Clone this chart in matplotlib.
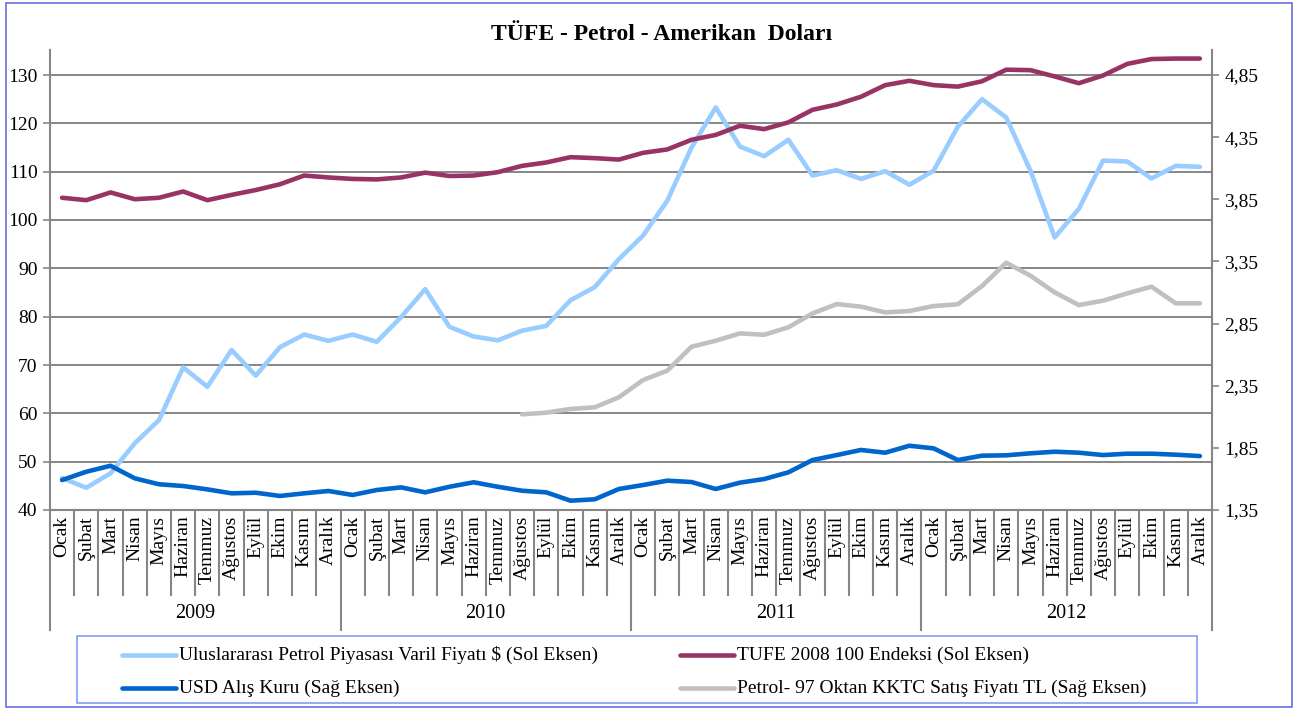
import numpy as np
import matplotlib
matplotlib.use("Agg")
import matplotlib.pyplot as plt
from matplotlib.lines import Line2D
from matplotlib.patches import Rectangle
from matplotlib.transforms import blended_transform_factory

plt.rcParams['font.family'] = ['Liberation Serif', 'DejaVu Serif']

months = ["Ocak", "Şubat", "Mart", "Nisan", "Mayıs", "Haziran", "Temmuz",
          "Ağustos", "Eylül", "Ekim", "Kasım", "Aralık"]
years = ["2009", "2010", "2011", "2012"]

oil = [46.6, 44.6, 47.6, 53.8, 58.6, 69.5, 65.5, 73.1, 67.8, 73.7, 76.3, 75.0,
       76.3, 74.8, 79.9, 85.7, 77.9, 75.9, 75.1, 77.1, 78.1, 83.4, 86.1, 91.9,
       96.8, 104.0, 115.0, 123.3, 115.2, 113.2, 116.6, 109.2, 110.3, 108.5, 110.1, 107.3,
       110.2, 119.3, 125.0, 121.2, 110.2, 96.4, 102.3, 112.3, 112.1, 108.6, 111.2, 111.0]
tufe = [104.6, 104.1, 105.7, 104.3, 104.6, 105.9, 104.1, 105.2, 106.2, 107.4, 109.2, 108.8,
        108.5, 108.4, 108.8, 109.8, 109.1, 109.2, 109.9, 111.2, 111.9, 113.0, 112.8, 112.5,
        113.9, 114.6, 116.6, 117.6, 119.5, 118.8, 120.2, 122.8, 123.9, 125.5, 127.9, 128.8,
        127.9, 127.6, 128.7, 131.1, 131.0, 129.7, 128.3, 129.9, 132.3, 133.3, 133.4, 133.4]
usd = [1.591, 1.658, 1.706, 1.605, 1.557, 1.543, 1.516, 1.484, 1.489, 1.463, 1.484, 1.503,
       1.471, 1.511, 1.532, 1.492, 1.537, 1.573, 1.537, 1.505, 1.492, 1.425, 1.436, 1.519,
       1.551, 1.586, 1.575, 1.519, 1.570, 1.599, 1.653, 1.752, 1.792, 1.833, 1.811, 1.867,
       1.846, 1.752, 1.787, 1.790, 1.806, 1.819, 1.811, 1.792, 1.803, 1.803, 1.795, 1.784]
petrol = [np.nan] * 19 + [2.120, 2.133, 2.163, 2.176, 2.257,
          2.396, 2.471, 2.664, 2.712, 2.771, 2.760, 2.820, 2.932, 3.007, 2.986, 2.940, 2.951,
          2.991, 3.005, 3.152, 3.340, 3.235, 3.101, 2.999, 3.034, 3.093, 3.147, 3.013, 3.013]

left_ticks = list(range(40, 131, 10))
right_ticks = [1.35, 1.85, 2.35, 2.85, 3.35, 3.85, 4.35, 4.85]

labels = ["Uluslararası Petrol Piyasası Varil Fiyatı $ (Sol Eksen)",
          "TUFE 2008 100 Endeksi (Sol Eksen)",
          "USD Alış Kuru (Sağ Eksen)",
          "Petrol- 97 Oktan KKTC Satış Fiyatı TL (Sağ Eksen)"]
colors = ["#99CCFF", "#993366", "#0066CC", "#C0C0C0"]

W, H = 1298, 709
fig = plt.figure(figsize=(W / 100, H / 100), dpi=100)
L, R, T, B = 50, 1212, 50, 510
ax = fig.add_axes([L / W, 1 - B / H, (R - L) / W, (B - T) / H])
ax2 = ax.twinx()

n = len(oil)
x = np.arange(n)
grid_c = "#868686"
lw = 3.3
kw = dict(lw=lw, solid_capstyle='round', solid_joinstyle='round', zorder=3)

ax.plot(x, oil, color=colors[0], **kw)
ax.plot(x, tufe, color=colors[1], **kw)
ax2.plot(x, usd, color=colors[2], **kw)
ax2.plot(x, petrol, color=colors[3], **kw)

ax.set_xlim(-0.5, n - 0.5)
ax.set_ylim(40, 40 + (B - T) / ((B - 75) / 90))
ax2.set_ylim(1.35, 1.35 + (B - T) / ((B - 75) / 3.5))

tick_fs = 14
ax.set_yticks(left_ticks)
ax.set_yticklabels([str(v) for v in left_ticks], fontsize=tick_fs)
ax2.set_yticks(right_ticks)
ax2.set_yticklabels([f"{v:.2f}".replace('.', ',') for v in right_ticks], fontsize=tick_fs)
for a in (ax, ax2):
    a.tick_params(axis='y', color=grid_c, length=5, width=1.2, pad=4)
    for s in a.spines.values():
        s.set_visible(False)
ax.yaxis.grid(True, color=grid_c, lw=1.4)
ax.set_axisbelow(True)
for a, side in ((ax, 'left'), (ax, 'bottom'), (ax2, 'right')):
    a.spines[side].set_visible(True)
    a.spines[side].set_color(grid_c)
    a.spines[side].set_linewidth(1.5)

# category labels
ax.set_xticks(x)
ax.set_xticklabels(months * len(years), rotation=90, fontsize=14, va='top', ha='center')
ax.tick_params(axis='x', length=0, pad=4)

trans = blended_transform_factory(ax.transData, ax.transAxes)
ph = B - T
y_month = -(595 - B) / ph
y_year = -(630 - B) / ph
for k in range(n + 1):
    bottom = y_year if k % 12 == 0 else y_month
    ax.add_line(Line2D([k - 0.5, k - 0.5], [0, bottom], transform=trans, color=grid_c,
                       lw=1.5, clip_on=False))
for j, yr in enumerate(years):
    ax.text(j * 12 + 5.5, -(613 - B) / ph, yr, transform=trans, ha='center', va='center',
            fontsize=14.5)

fig.text(662 / W, 1 - 35 / H, "TÜFE - Petrol - Amerikan  Doları", ha='center', va='center',
         fontsize=17, fontweight='bold')

# legend
fig.patches.append(Rectangle((77 / W, 1 - 703 / H), (1197 - 77) / W, (703 - 636) / H,
                             transform=fig.transFigure, fill=False, edgecolor="#7F9FF5", lw=1.2))
pos = [(122, 655), (680, 655), (122, 688), (680, 688)]
for (px, py), lab, c in zip(pos, labels, colors):
    fig.add_artist(Line2D([px / W, (px + 54) / W], [1 - py / H, 1 - py / H], color=c, lw=lw,
                          solid_capstyle='round', transform=fig.transFigure))
    fig.text((px + 57) / W, 1 - py / H, lab, ha='left', va='center', fontsize=14)

# outer border
fig.patches.append(Rectangle((6 / W, 1 - 707 / H), (1292 - 6) / W, (707 - 3) / H,
                             transform=fig.transFigure, fill=False, edgecolor="#6B6BE8", lw=1.2))

fig.savefig("out.png", dpi=100)
